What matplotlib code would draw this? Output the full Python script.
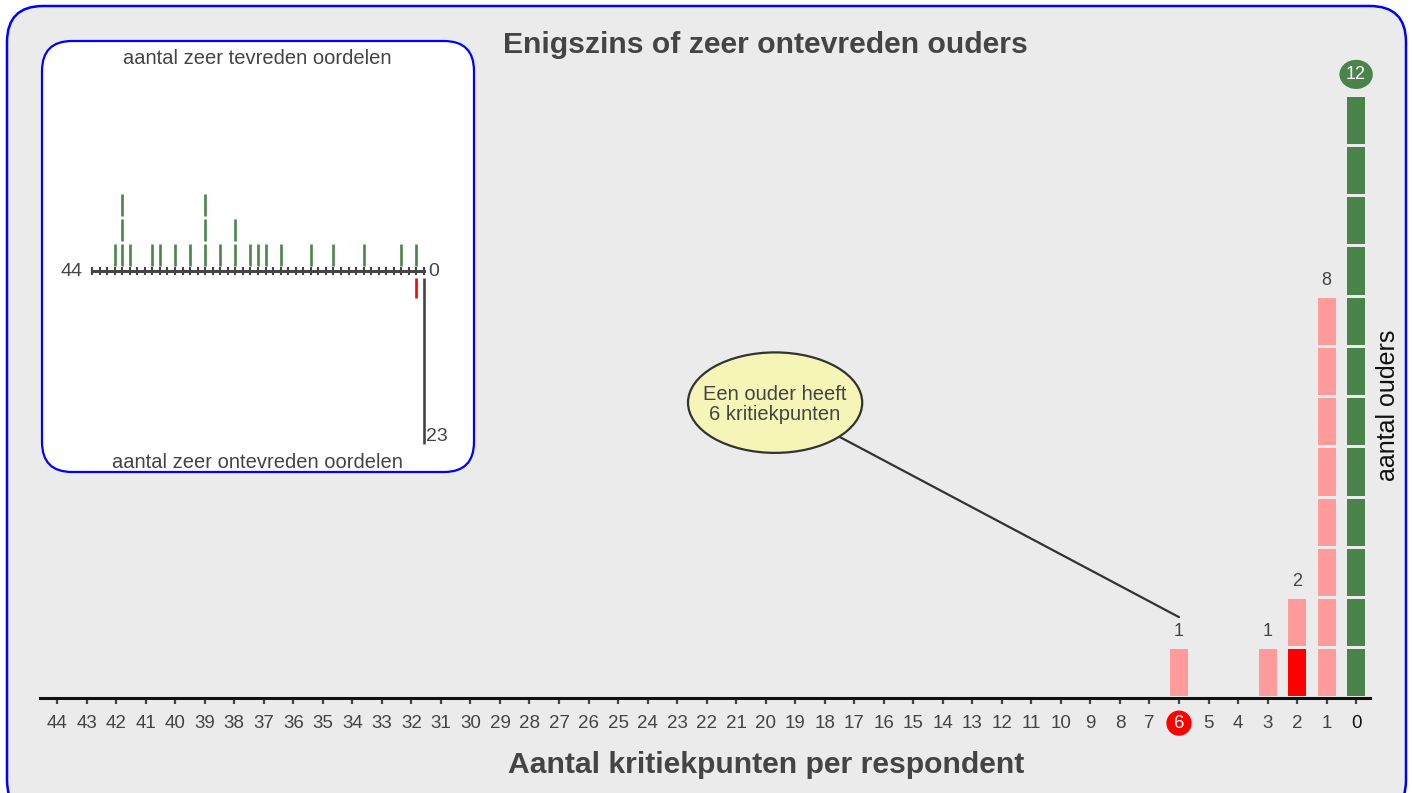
import matplotlib.pyplot as plt
from matplotlib.patches import FancyBboxPatch, Ellipse
from collections import Counter

plt.rcParams['font.family'] = ['Liberation Sans', 'DejaVu Sans']

# hoofdgrafiek: aantal kritiekpunten per respondent
kritiekpunten = [6, 3, 2, 1, 0]
aantal_ouders = [1, 1, 2, 8, 12]
geselecteerd_x = 2          # segment dat rood gemarkeerd is
geselecteerd_niveau = 0
max_kritiek = 44

# inzet: aantal zeer tevreden / zeer ontevreden oordelen per ouder
tevreden_oordelen = [41, 40, 40, 40, 39, 36, 35, 33, 31, 29, 29, 29, 27,
                     25, 25, 23, 22, 21, 19, 15, 12, 8, 3, 1]
ontevreden_rood = [1]
max_ontevreden = 23

GROEN = '#4a844a'
ROZE = '#ff9b9b'
ROOD = '#ff0000'
TEKST = '#444444'

W, H = 1412, 793
fig = plt.figure(figsize=(W / 100, H / 100), dpi=100)
fig.patch.set_facecolor('white')


def rect(left, top, right, bottom):
    return [left / W, 1 - bottom / H, (right - left) / W, (bottom - top) / H]


# achtergrond met afgeronde kaders
bg = fig.add_axes([0, 0, 1, 1])
bg.set_xlim(0, W)
bg.set_ylim(H, 0)
bg.axis('off')
bg.add_patch(FancyBboxPatch((7, 6), 1399, 810, boxstyle='round,pad=0,rounding_size=36',
                            fc='#ebebeb', ec='#0000ff', lw=1.8))
bg.add_patch(FancyBboxPatch((42, 41), 432, 431, boxstyle='round,pad=0,rounding_size=30',
                            fc='white', ec='#0000ff', lw=1.6))

# hoofdgrafiek
ax = fig.add_axes(rect(40, 45, 1370, 698))
ax.set_facecolor('none')
ax.set_xlim(max_kritiek + 0.58, -0.47)
ax.set_ylim(0, 13)
for s in ['top', 'left', 'right']:
    ax.spines[s].set_visible(False)
ax.spines['bottom'].set_linewidth(2.2)
ax.spines['bottom'].set_color('#111111')
ax.set_yticks([])
ax.set_xticks(range(max_kritiek + 1))
ax.tick_params(axis='x', direction='out', length=4, width=1.6, color='#444444',
               labelsize=13.5, labelcolor=TEKST, pad=8)

for x, n in zip(kritiekpunten, aantal_ouders):
    for k in range(n):
        if x == 0:
            c = GROEN
        elif x == geselecteerd_x and k == geselecteerd_niveau:
            c = ROOD
        else:
            c = ROZE
        ax.bar(x, 0.94, bottom=k + 0.03, width=0.61, color=c, lw=0)
    if x == 0:
        ax.annotate(str(n), (x, n), xytext=(0, 15), textcoords='offset points',
                    ha='center', va='center', fontsize=13, color='white',
                    bbox=dict(boxstyle='ellipse,pad=0.1', fc=GROEN, ec='none'))
    else:
        ax.annotate(str(n), (x, n), xytext=(0, 11.5), textcoords='offset points',
                    ha='center', va='center', fontsize=13, color=TEKST)

for lab in ax.get_xticklabels():
    if lab.get_text() == '0':
        lab.set_color('#111111')
    if lab.get_text() == '6':
        lab.set_color('white')
        lab.set_bbox(dict(boxstyle='circle,pad=0.22', fc=ROOD, ec='none'))

# tekstballon
ballon = Ellipse((19.68, 5.88), 5.9, 2.0, fc='#f5f5b8', ec='#333333', lw=1.6, zorder=5)
ax.add_patch(ballon)
ax.text(19.68, 5.84, 'Een ouder heeft\n6 kritiekpunten', ha='center', va='center',
        fontsize=14.5, color=TEKST, linespacing=1.1, zorder=6)
ax.annotate('', xy=(6, 1.61), xytext=(19.68, 5.88),
            arrowprops=dict(arrowstyle='-', color='#333333', lw=1.6,
                            patchA=ballon, shrinkA=0, shrinkB=0), zorder=4)

fig.text(765 / W, 1 - 45 / H, 'Enigszins of zeer ontevreden ouders', ha='center',
         va='center', fontsize=21.7, fontweight='bold', color=TEKST)
fig.text(766 / W, 1 - 765 / H, 'Aantal kritiekpunten per respondent', ha='center',
         va='center', fontsize=21.7, fontweight='bold', color=TEKST)
fig.text(1388 / W, 1 - 405 / H, 'aantal ouders', rotation=90, ha='center',
         va='center', fontsize=18, color='#111111')

# inzet
ins = fig.add_axes(rect(92, 191, 424, 443.5))
ins.set_facecolor('none')
ins.set_xlim(max_kritiek, 0)
omlaag = 6.9 / max_ontevreden
ins.set_ylim(-max_ontevreden * omlaag, 3.2)
for s in ['top', 'left', 'right']:
    ins.spines[s].set_visible(False)
ins.spines['bottom'].set_position(('data', 0))
ins.spines['bottom'].set_linewidth(2.2)
ins.spines['bottom'].set_color('#444444')
ins.set_yticks([])
ins.set_xticks(range(max_kritiek + 1))
ins.set_xticklabels([])
ins.tick_params(axis='x', direction='inout', length=6, width=1.5, color='#444444')

teller = Counter()
for v in tevreden_oordelen:
    k = teller[v]
    teller[v] += 1
    ins.vlines(v, k + 0.2, k + 1.1, color=GROEN, lw=1.9, clip_on=False)
for v in ontevreden_rood:
    ins.vlines(v, -1.08, -0.28, color=ROOD, lw=1.9, clip_on=False)
ins.vlines(0, -max_ontevreden * omlaag, -0.28, color='#444444', lw=1.9, clip_on=False)

ins.annotate(str(max_kritiek), (max_kritiek, 0), xytext=(-7, 0), textcoords='offset points',
             ha='right', va='center', fontsize=14, color=TEKST)
ins.annotate('0', (0, 0), xytext=(3, 0), textcoords='offset points',
             ha='left', va='center', fontsize=14, color=TEKST)
ins.annotate(str(max_ontevreden), (0, -max_ontevreden * omlaag), xytext=(1.5, 5),
             textcoords='offset points', ha='left', va='center', fontsize=14, color=TEKST)

fig.text(257 / W, 1 - 59 / H, 'aantal zeer tevreden oordelen', ha='center', va='center',
         fontsize=14.5, color=TEKST)
fig.text(257 / W, 1 - 462 / H, 'aantal zeer ontevreden oordelen', ha='center', va='center',
         fontsize=14.5, color=TEKST)

fig.savefig('out.png', dpi=100, facecolor='white')
